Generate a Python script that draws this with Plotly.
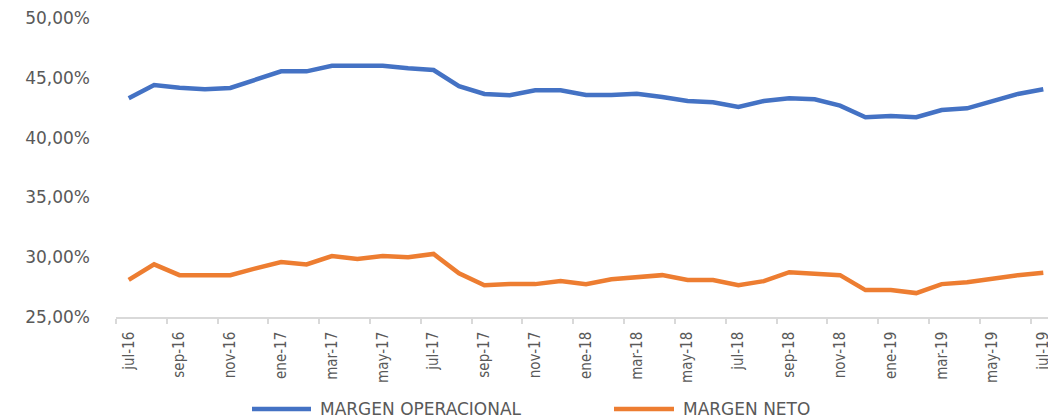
import plotly.graph_objects as go

months = ["jul-16","ago-16","sep-16","oct-16","nov-16","dic-16",
          "ene-17","feb-17","mar-17","abr-17","may-17","jun-17",
          "jul-17","ago-17","sep-17","oct-17","nov-17","dic-17",
          "ene-18","feb-18","mar-18","abr-18","may-18","jun-18",
          "jul-18","ago-18","sep-18","oct-18","nov-18","dic-18",
          "ene-19","feb-19","mar-19","abr-19","may-19","jun-19","jul-19"]

margen_operacional = [43.29, 44.40, 44.17, 44.04, 44.15, 44.80,
                      45.54, 45.54, 46.00, 46.00, 46.00, 45.80,
                      45.65, 44.30, 43.65, 43.54, 43.95, 43.95,
                      43.56, 43.56, 43.67, 43.39, 43.06, 42.95,
                      42.56, 43.06, 43.30, 43.20, 42.67, 41.70,
                      41.80, 41.70, 42.30, 42.45, 43.06, 43.65, 44.04]

margen_neto = [28.10, 29.40, 28.50, 28.50, 28.50, 29.07,
               29.60, 29.40, 30.10, 29.85, 30.10, 30.00,
               30.27, 28.65, 27.65, 27.75, 27.75, 28.00,
               27.75, 28.15, 28.37, 28.50, 28.10, 28.10,
               27.65, 28.00, 28.75, 28.65, 28.50, 27.25,
               27.25, 27.00, 27.75, 27.90, 28.20, 28.50, 28.70]

series_names = ["MARGEN OPERACIONAL", "MARGEN NETO"]
series_colors = ["#4472C4", "#ED7D31"]

y_ticks = [25, 30, 35, 40, 45, 50]
y_tick_labels = ["25,00%", "30,00%", "35,00%", "40,00%", "45,00%", "50,00%"]

idx = list(range(len(months)))
label_idx = idx[::2]
label_text = [months[i] for i in label_idx]

# the page body has an 8px default margin, so the figure is laid out
# in window pixels minus that offset
OFF = 8
W, H = 1056 - OFF, 418 - OFF
ML, MT = 116 - OFF, 18 - OFF
MR = 0
MB = H - (317 - OFF)
PW, PH = W - ML - MR, H - MT - MB


def px_x(p):
    return (p - OFF - ML) / PW


def px_y(p):
    return (H - MB - (p - OFF)) / PH


fig = go.Figure()
for name, vals, col in zip(series_names, [margen_operacional, margen_neto], series_colors):
    fig.add_trace(go.Scatter(x=idx, y=vals, mode="lines", name=name,
                             line=dict(color=col, width=4.5), showlegend=False))

# manual legend (line sample + label), positions in window pixels
legend_items = [(252, 311, 318), (614, 674, 681)]
LEG_Y = 409
shapes, annotations = [], []
for (x0, x1, tx), name, col in zip(legend_items, series_names, series_colors):
    shapes.append(dict(type="line", xref="paper", yref="paper",
                       x0=px_x(x0), x1=px_x(x1), y0=px_y(LEG_Y), y1=px_y(LEG_Y),
                       line=dict(color=col, width=4.5)))
    annotations.append(dict(xref="paper", yref="paper", x=px_x(tx), y=px_y(LEG_Y),
                            xanchor="left", yanchor="middle", showarrow=False,
                            text=name,
                            font=dict(family="DejaVu Sans, Verdana, sans-serif",
                                      size=17, color="#595959")))

fig.update_layout(
    template="none",
    width=W, height=H,
    margin=dict(l=ML, r=MR, t=MT, b=MB, pad=0),
    paper_bgcolor="white", plot_bgcolor="white",
    showlegend=False,
    font=dict(family="DejaVu Sans, Verdana, sans-serif", color="#595959"),
    shapes=shapes, annotations=annotations,
)

fig.update_xaxes(
    range=[-0.5, 36.5], automargin=False,
    tickmode="array", tickvals=label_idx, ticktext=label_text,
    tickangle=-90,
    tickfont=dict(family="DejaVu Sans Condensed, DejaVu Sans, sans-serif",
                  size=15, color="#595959"),
    ticks="", showgrid=False, zeroline=False,
    ticklabelstandoff=7, ticklabeloverflow="allow",
    showline=True, linecolor="#D9D9D9", linewidth=1.5,
    minor=dict(tickmode="linear", tick0=-0.5, dtick=2, ticks="outside",
               ticklen=5, tickcolor="#D9D9D9", tickwidth=1.5, showgrid=False),
)

fig.update_yaxes(
    range=[25, 50.001], automargin=False,
    tickmode="array", tickvals=y_ticks, ticktext=y_tick_labels,
    tickfont=dict(family="DejaVu Sans, Verdana, sans-serif", size=17, color="#595959"),
    showgrid=False, zeroline=False, showline=False, ticks="",
    ticklabelstandoff=25, ticklabeloverflow="allow",
)

fig.write_html("out.html")
